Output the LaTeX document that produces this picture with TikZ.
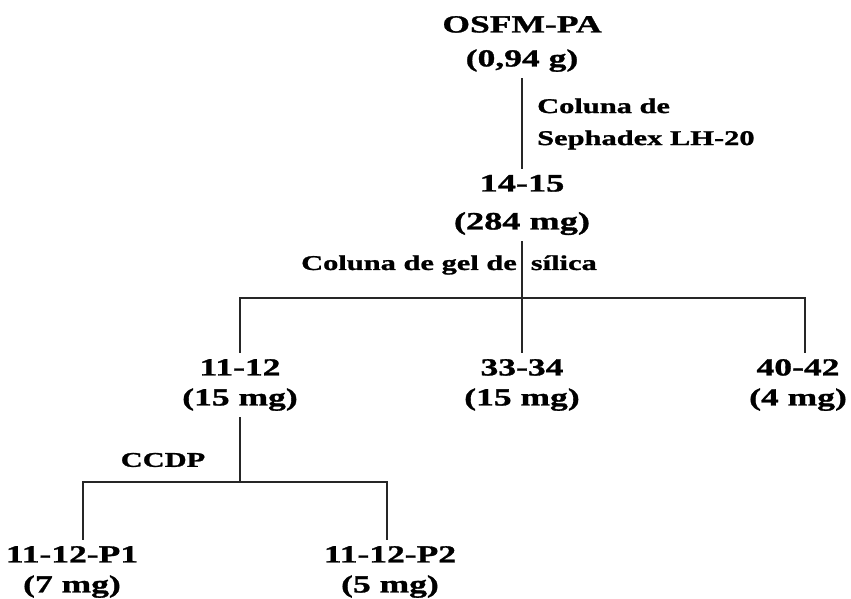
\documentclass[tikz,border=0pt]{standalone}
\usepackage{fontspec}
\newfontfamily\widefont[FakeStretch=1.45, FakeBold=1.2]{Liberation Serif}
\tikzset{
  top_font/.style = {font=\widefont\bfseries\fontsize{24.5}{34}\selectfont},
  mid_font/.style = {font=\widefont\bfseries\fontsize{25}{38}\selectfont},
  frac_font/.style = {font=\widefont\bfseries\fontsize{24.5}{30}\selectfont},
  method_font/.style = {font=\widefont\bfseries\fontsize{21}{32}\selectfont}
}
\tikzset{
  fraction/.style = {frac_font, align=center, inner sep=6},
  top_fraction/.style = {fraction, top_font},
  mid_fraction/.style = {fraction, mid_font},
  method/.style = {method_font, inner sep=0},
  link/.style = {line width=1.3, draw=black!85}
}
\begin{document}
\begin{tikzpicture}[x=1pt, y=-1pt]
    \useasboundingbox (0,0) rectangle (851,599);

    % Fractions
    \node[top_fraction] (osfm) at (522,44) {OSFM-PA\\(0,94 g)};
    \node[mid_fraction] (fr_14_15) at (522,205) {14-15\\(284 mg)};
    \node[fraction] (fr_11_12) at (240,385) {11-12\\(15 mg)};
    \node[fraction] (fr_33_34) at (522,385) {33-34\\(15 mg)};
    \node[fraction] (fr_40_42) at (798,385) {40-42\\(4 mg)};
    \node[fraction] (fr_p1) at (72,572) {11-12-P1\\(7 mg)};
    \node[fraction] (fr_p2) at (390,572) {11-12-P2\\(5 mg)};

    % Methods
    \node[method, anchor=west, align=left] (sephadex) at (537,124) {Coluna de\\Sephadex LH-20};
    \node[method] (silica) at (449,265) {Coluna de gel de\hspace{14pt}sílica};
    \node[method] (ccdp) at (163,460) {CCDP};

    % Lines
    \coordinate (split_1) at (522,298);
    \coordinate (split_2) at (240,482);

    \draw[link] (osfm) -- (fr_14_15);
    \draw[link] (fr_14_15) -- (split_1);
    \draw[link] (split_1) -- (fr_33_34);
    \draw[link] (fr_11_12.north) |- (split_1) -| ([xshift=7]fr_40_42.north);

    \draw[link] (fr_11_12) -- (split_2);
    \draw[link] ([xshift=11]fr_p1.north) |- (split_2) -| ([xshift=-3]fr_p2.north);
\end{tikzpicture}
\end{document}
